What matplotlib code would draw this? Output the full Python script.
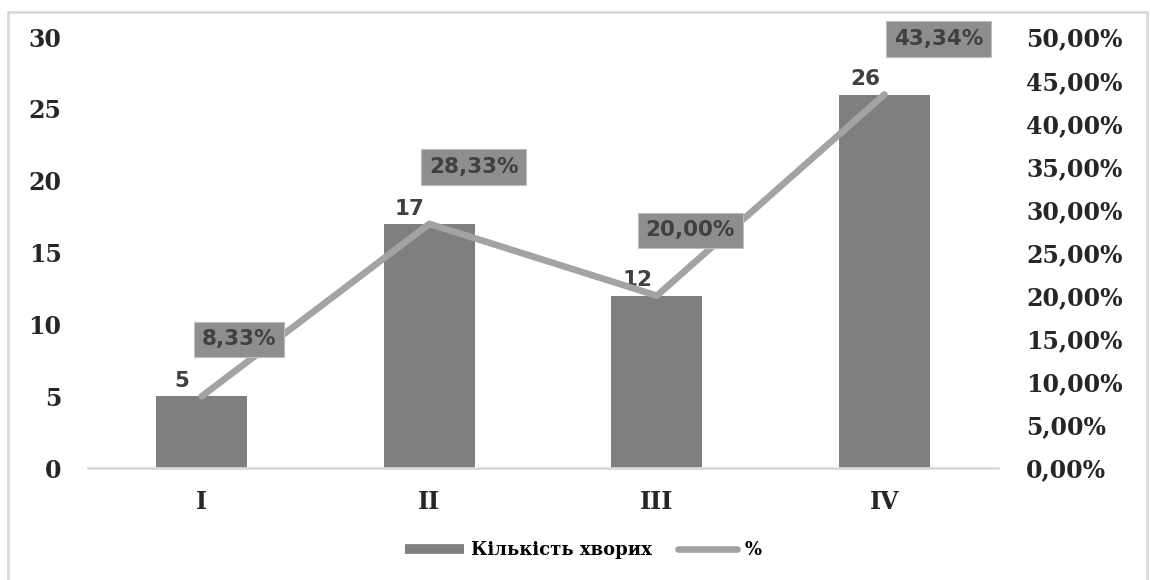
import numpy as np
import matplotlib.pyplot as plt
from matplotlib.lines import Line2D
from matplotlib.patches import Rectangle
from matplotlib.ticker import FuncFormatter

categories = ['I', 'II', 'III', 'IV']
patients = [5, 17, 12, 26]
percent = [8.33, 28.33, 20.00, 43.34]

BAR_COLOR = '#7f7f7f'
LINE_COLOR = '#a3a3a3'
BOX_COLOR = '#8e8e8e'
TEXT_DARK = '#404040'
SERIF = 'DejaVu Serif'
SANS = 'DejaVu Sans'

# label offsets (points) for the percentage boxes
pct_offsets = [(27, 41), (32, 41), (24, 47), (39, 40)]

fig = plt.figure(figsize=(11.5, 5.8), dpi=100)
fig.add_artist(Rectangle((0.007, -0.02), 0.99, 1.0, transform=fig.transFigure,
                         fill=False, edgecolor='#d9d9d9', linewidth=2))
ax = fig.add_axes([0.0765, 0.193, 0.868 - 0.0765, 0.936 - 0.193])
ax2 = ax.twinx()

x = np.arange(len(categories))
ax.bar(x, patients, width=0.4, color=BAR_COLOR, zorder=2)
ax.set_xlim(-0.5, 3.5)
ax.set_ylim(0, 30)
ax.set_yticks(range(0, 31, 5))
ax.set_xticks(x)
ax.set_xticklabels(categories)

for i, v in enumerate(patients):
    ax.annotate(str(v), (x[i], v), xytext=(-14, 11), textcoords='offset points',
                ha='center', va='center', fontsize=15.5, fontweight='bold',
                family=SANS, color=TEXT_DARK)

ax2.plot(x, np.array(percent) / 100, color=LINE_COLOR, linewidth=4.8,
         solid_capstyle='round', zorder=3)
ax2.set_ylim(0, 0.5)
ax2.set_yticks(np.arange(0, 0.501, 0.05))
ax2.yaxis.set_major_formatter(FuncFormatter(
    lambda v, p: f'{v * 100:.2f}%'.replace('.', ',')))

for i, v in enumerate(percent):
    ax2.annotate(f'{v:.2f}%'.replace('.', ','), (x[i], v / 100),
                 xytext=pct_offsets[i], textcoords='offset points',
                 ha='center', va='center', fontsize=15.5, fontweight='bold',
                 family=SANS, color=TEXT_DARK, zorder=5,
                 bbox=dict(boxstyle='square,pad=0.36', facecolor=BOX_COLOR,
                           edgecolor='#bdbdbd', linewidth=0.8))

for a in (ax, ax2):
    for s in a.spines.values():
        s.set_visible(False)
    a.tick_params(length=0)
ax.spines['bottom'].set_visible(True)
ax.spines['bottom'].set_color('#d9d9d9')
ax.spines['bottom'].set_linewidth(2)

ax.tick_params(axis='y', pad=19)
ax.tick_params(axis='x', pad=16)
ax2.tick_params(axis='y', pad=20)
for lab in ax.get_yticklabels() + ax.get_xticklabels() + ax2.get_yticklabels():
    lab.set_fontfamily(SERIF)
    lab.set_fontweight('bold')
    lab.set_fontsize(17)
    lab.set_color('#262626')

handles = [Line2D([], [], color=BAR_COLOR, linewidth=7, solid_capstyle='butt'),
           Line2D([], [], color=LINE_COLOR, linewidth=4.8, solid_capstyle='round')]
fig.legend(handles, ['Кількість хворих', '%'], loc='center',
           bbox_to_anchor=(0.507, 0.052), ncol=2, frameon=False,
           handlelength=3.3, columnspacing=1.4, handletextpad=0.4,
           prop=dict(family=SERIF, weight='bold', size=13))

fig.savefig('out.png', dpi=100)
